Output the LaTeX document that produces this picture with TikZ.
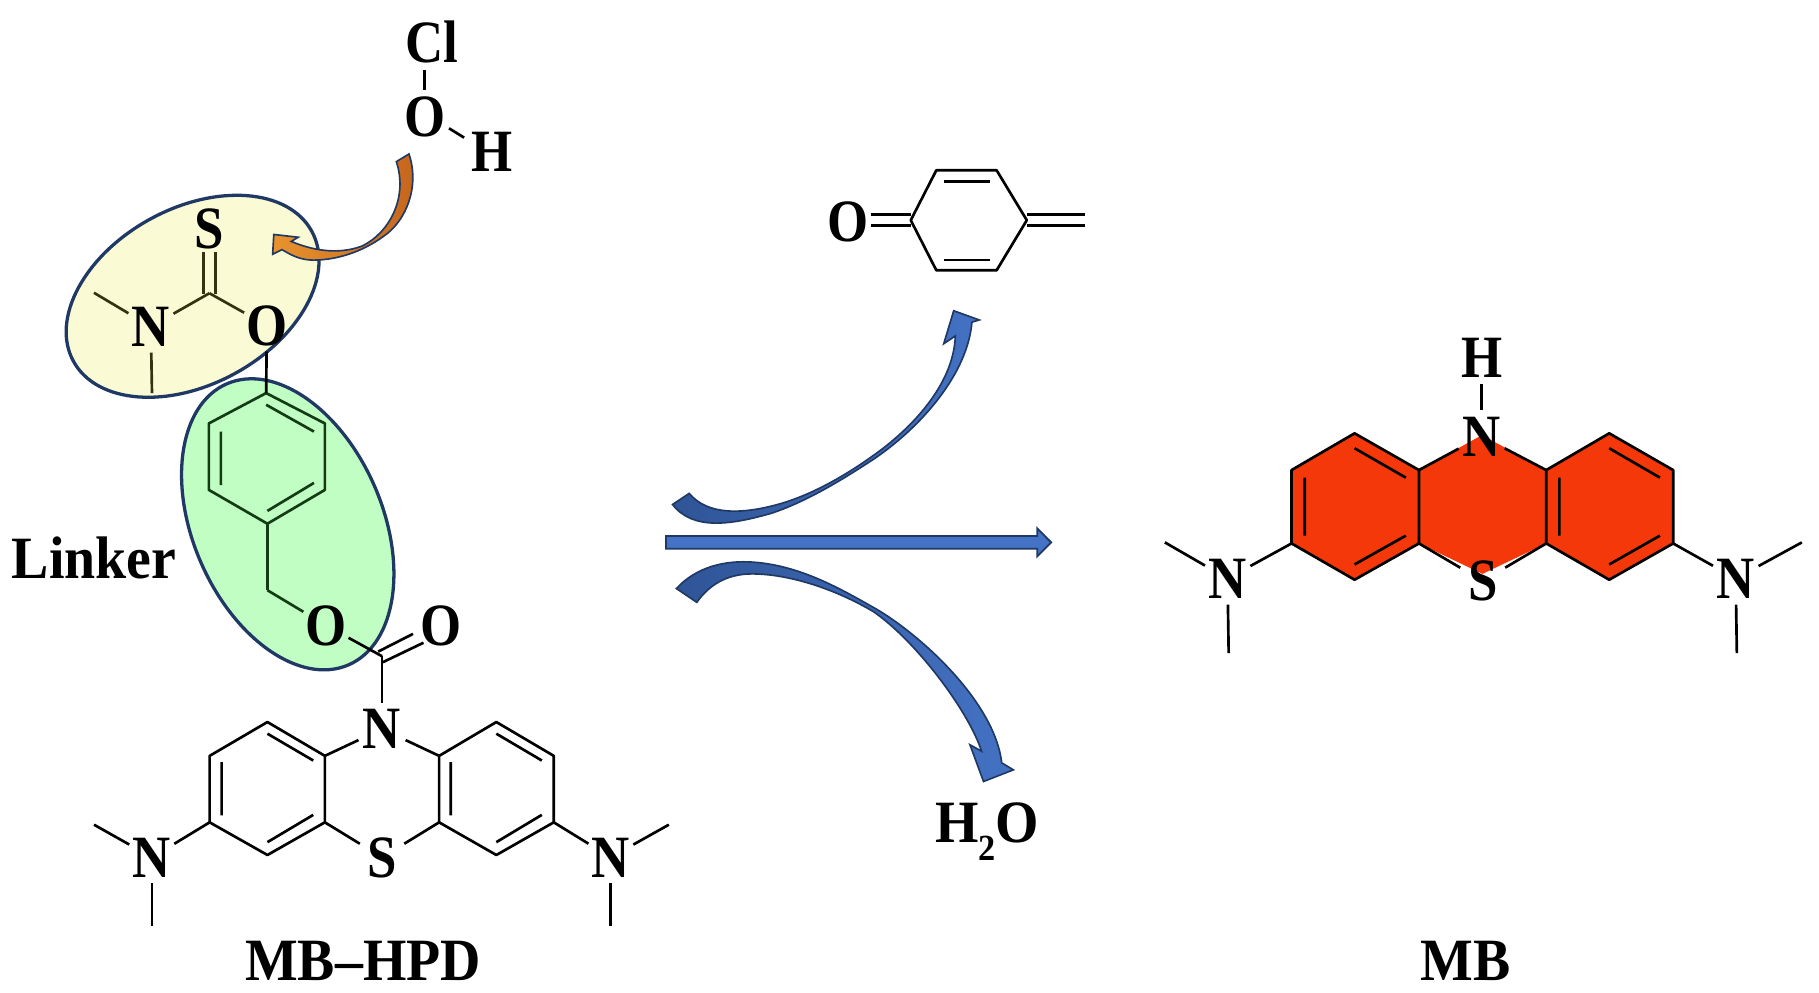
\documentclass[tikz,border=0pt]{standalone}
\usepackage{fontspec}
\newfontfamily\atomfont[FakeStretch=0.88]{Liberation Serif}
\newfontfamily\labelfont[FakeStretch=0.93]{Liberation Serif}
\newcommand\atm[1]{\makebox[0pt]{\smash{\raisebox{-0.33em}{#1}}}}
\definecolor{navy}{HTML}{1F3864}
\definecolor{arrowblue}{HTML}{4472C4}
\definecolor{arrowdark}{HTML}{2F5597}
\definecolor{ell-yellow}{HTML}{FAFBD5}
\definecolor{ell-green}{HTML}{C0FEC4}
\definecolor{mbred}{HTML}{F5380A}
\definecolor{orangehead}{HTML}{E8932E}
\definecolor{orangetail}{HTML}{C4641C}
\definecolor{bondyellow}{HTML}{33330F}
\definecolor{bondgreen}{HTML}{143C14}
\tikzset{
  atom/.style={circle,inner sep=0pt,minimum size=0.88cm,font=\atomfont\bfseries\fontsize{29.3}{32}\selectfont},
  caption/.style={circle,inner sep=0pt,minimum size=0.88cm,font=\labelfont\bfseries\fontsize{29.3}{32}\selectfont},
  bond/.style={draw=black,line width=1.3pt},
  ybond/.style={draw=bondyellow,line width=1.3pt},
  gbond/.style={draw=bondgreen,line width=1.3pt},
  lobe/.style={draw=navy,line width=1.6pt},
  bluearrow/.style={draw=navy,line width=0.8pt,left color=arrowdark,right color=arrowblue},
  straightarrow/.style={draw=navy,line width=0.9pt,fill=arrowblue},
  orangearrow/.style={draw=navy,line width=0.8pt,left color=orangehead,right color=orangetail},
}
\begin{document}
\begin{tikzpicture}[x=0.0199cm,y=-0.02cm]
\useasboundingbox (0,0) rectangle (1567.8,850.7);
% highlight lobes
\draw[lobe,fill=ell-yellow,shift={(166,254)},rotate=28.6] (0,0) ellipse [x radius=117,y radius=75.5];
\draw[lobe,fill=ell-green,shift={(248,449.5)},rotate=113.4] (0,0) ellipse [x radius=132,y radius=81.3];
% red core of MB
\fill[mbred] (1167.5,371.5) -- (1223,403) -- (1277.3,373) -- (1332.7,403) -- (1387,371.5) -- (1442.1,403) -- (1442.1,465.9) -- (1387,497) -- (1332.7,465.9) -- (1277.7,492) -- (1223,465.9) -- (1167.5,497) -- (1113.2,465.9) -- (1113.2,403) -- cycle;

% ---------- HOCl
\node[atom] (cl) at (372,37) {\atm{Cl}};
\node[atom] (oh) at (366,100) {\atm{O}};
\node[atom] (hh) at (424,130) {\atm{H}};
\draw[bond] (366,60) -- (366,77);
\draw[bond] (387,110) -- (400,118);

% ---------- orange curved arrow
\draw[orangearrow,line join=miter]
  (341.6,138.6) -- (352.5,132)
  .. controls (362,160) and (350,190) .. (330,203)
  .. controls (312,216) and (290,223) .. (270,223)
  .. controls (258,223) and (250,218) .. (243,214)
  -- (235,218) -- (236,201) -- (257,203.4) -- (251,207)
  .. controls (268,214) and (290,219) .. (312,211)
  .. controls (335,200) and (352,170) .. (341.6,138.6)
  -- cycle;

% ---------- thiocarbamate
\node[atom] (s1) at (180.5,196) {\atm{S}};
\node[atom] (n1) at (130,280) {\atm{N}};
\node[atom] (o1) at (230,279) {\atm{O}};
\coordinate (c1) at (180.5,251.4);
\coordinate (me1) at (81,251);
\coordinate (me2) at (131,337);
\draw[ybond] (175.6,216) -- (175.6,252) (185.5,216) -- (185.5,252);
\draw[ybond] (c1) -- (n1);
\draw[ybond] (c1) -- (o1);
\draw[ybond] (me1) -- (n1);
\draw[ybond] (me2) -- (n1);

% ---------- linker ring
\coordinate (l1) at (229.4,337);
\coordinate (l2) at (280,363);
\coordinate (l3) at (280,420);
\coordinate (l4) at (230.5,449);
\coordinate (l5) at (180,420);
\coordinate (l6) at (180,363);
\coordinate (ch2) at (230.5,506);
\draw[gbond,line join=round] (l1) -- (l2) -- (l3) -- (l4) -- (l5) -- (l6) -- cycle;
\draw[gbond] (229.4,347) -- (270.6,370) (190.4,370) -- (190.4,416) (230.5,438) -- (270.6,414);
\draw[bond] (o1) -- (l1);
\draw[gbond] (l4) -- (ch2);

\node[caption] (linker) at (81,479) {\atm{Linker}};

% ---------- carbamate
\node[atom] (o2) at (280.7,536) {\atm{O}};
\node[atom] (o3) at (380,536) {\atm{O}};
\node[atom] (n2) at (329.3,625) {\atm{N}};
\coordinate (c2) at (329.3,562.6);
\draw[gbond] (ch2) -- (o2);
\draw[bond] (o2) -- (c2);
\draw[bond] (326,558.6) -- (356,543.4) (330,567.7) -- (365,551);
\draw[bond] (c2) -- (n2);

% ---------- MB-HPD tricycle
\node[atom] (s2) at (329.3,735) {\atm{S}};
\node[atom] (n3) at (131,735) {\atm{N}};
\node[atom] (n4) at (526.3,735) {\atm{N}};
\coordinate (a1) at (280,648);
\coordinate (a2) at (230.5,619);
\coordinate (a3) at (180.7,648);
\coordinate (a4) at (180.7,705);
\coordinate (a5) at (230.5,733);
\coordinate (a6) at (280,705);
\coordinate (b1) at (378.5,648);
\coordinate (b2) at (427.8,619);
\coordinate (b3) at (477.3,648);
\coordinate (b4) at (477.3,705);
\coordinate (b5) at (427.8,733);
\coordinate (b6) at (378.5,705);
\draw[bond,line join=round] (a1) -- (a2) -- (a3) -- (a4) -- (a5) -- (a6) -- cycle;
\draw[bond,line join=round] (b1) -- (b2) -- (b3) -- (b4) -- (b5) -- (b6) -- cycle;
\draw[bond] (230.5,629) -- (270,652) (191,653.4) -- (191,699) (230.5,722) -- (270,698.6);
\draw[bond] (427.8,629) -- (467,652) (388.5,653.4) -- (388.5,699) (427.8,722) -- (467,698.6);
\draw[bond] (a1) -- (n2);
\draw[bond] (b1) -- (n2);
\draw[bond] (a6) -- (s2);
\draw[bond] (b6) -- (s2);
\draw[bond] (a4) -- (n3);
\draw[bond] (b4) -- (n4);
\coordinate (m1) at (81,707);
\coordinate (m2) at (131,794);
\coordinate (m3) at (576.5,707);
\coordinate (m4) at (526.3,794);
\draw[bond] (m1) -- (n3);
\draw[bond] (m2) -- (n3);
\draw[bond] (m3) -- (n4);
\draw[bond] (m4) -- (n4);
\node[caption] (mbhpd) at (313,824) {\atm{MB–HPD}};

% ---------- reaction arrows
\draw[straightarrow,line join=miter] (574,459.5) -- (894,459.5) -- (894,453) -- (906,465) -- (894,477) -- (894,470.5) -- (574,470.5) -- cycle;
\draw[bluearrow,line join=miter]
  (579.7,432.5) -- (594,423)
  .. controls (610,442) and (640,441) .. (672,432)
  .. controls (700,424) and (728,408) .. (752,391)
  .. controls (785,368) and (822,330) .. (823.4,288)
  -- (813.4,294.7) -- (822,266.4) -- (844,274.3) -- (837.7,276.2)
  .. controls (834,320) and (795,365) .. (754,393)
  .. controls (725,412) and (695,430) .. (665,440)
  .. controls (630,450) and (597,455) .. (579.7,432.5)
  -- cycle;
\draw[bluearrow,line join=miter]
  (583,504.6)
  .. controls (600,486) and (625,480) .. (650,482)
  .. controls (690,485) and (725,505) .. (755,522)
  .. controls (790,542) and (857,600) .. (863.4,654)
  -- (873.4,660) -- (847.7,670) -- (836,638.5) -- (846,644)
  .. controls (835,610) and (790,550) .. (753,524.5)
  .. controls (720,505) and (680,492) .. (648,492)
  .. controls (625,492) and (610,503) .. (600.6,516.4)
  -- cycle;

% ---------- quinone methide
\node[atom] (o4) at (731,190) {\atm{O}};
\coordinate (q1) at (785,188.8);
\coordinate (q2) at (807,146);
\coordinate (q3) at (859,146);
\coordinate (q4) at (885,188.8);
\coordinate (q5) at (859,231.7);
\coordinate (q6) at (807,231.7);
\draw[bond,line join=round] (q1) -- (q2) -- (q3) -- (q4) -- (q5) -- (q6) -- cycle;
\draw[bond] (813.4,155.4) -- (853.4,155.4) (813.4,223) -- (853.4,223);
\draw[bond] (885,183.7) -- (935,183.7) (885,193.6) -- (935,193.6);
\draw[bond] (751,183.7) -- (785,183.7) (751,193.6) -- (785,193.6);

\node[caption] (water) at (851,705) {\atm{H\raisebox{-0.3em}{\fontsize{18}{18}\selectfont 2}O}};

% ---------- MB
\node[atom] (h5) at (1277,307) {\atm{H}};
\node[atom] (n5) at (1277,374) {\atm{N}};
\node[atom] (s5) at (1278,498) {\atm{S}};
\node[atom] (n6) at (1058,496) {\atm{N}};
\node[atom] (n7) at (1496,496) {\atm{N}};
\coordinate (c1a) at (1223,403);
\coordinate (c2a) at (1167.5,371.5);
\coordinate (c3a) at (1113.2,403);
\coordinate (c4a) at (1113.2,465.9);
\coordinate (c5a) at (1167.5,497);
\coordinate (c6a) at (1223,465.9);
\coordinate (d1a) at (1332.7,403);
\coordinate (d2a) at (1387,371.5);
\coordinate (d3a) at (1442.1,403);
\coordinate (d4a) at (1442.1,465.9);
\coordinate (d5a) at (1387,497);
\coordinate (d6a) at (1332.7,465.9);
\draw[bond,line join=round] (c1a) -- (c2a) -- (c3a) -- (c4a) -- (c5a) -- (c6a) -- cycle;
\draw[bond,line join=round] (d1a) -- (d2a) -- (d3a) -- (d4a) -- (d5a) -- (d6a) -- cycle;
\draw[bond] (1167.5,384.3) -- (1211.7,409.5) (1124.5,409.5) -- (1124.5,459.2) (1167.5,483.9) -- (1211.7,459.2);
\draw[bond] (1387,384.3) -- (1430.7,409.5) (1344,409.5) -- (1344,459.2) (1387,483.9) -- (1430.7,459.2);
\draw[bond] (h5) -- (n5);
\draw[bond] (c1a) -- (n5);
\draw[bond] (d1a) -- (n5);
\draw[bond] (c6a) -- (s5);
\draw[bond] (d6a) -- (s5);
\draw[bond] (c4a) -- (n6);
\draw[bond] (d4a) -- (n7);
\coordinate (p1) at (1004,465);
\coordinate (p2) at (1059,560);
\coordinate (p3) at (1553,465);
\coordinate (p4) at (1497,560);
\draw[bond] (p1) -- (n6);
\draw[bond] (p2) -- (n6);
\draw[bond] (p3) -- (n7);
\draw[bond] (p4) -- (n7);
\node[caption] (mb) at (1263,824) {\atm{MB}};
\end{tikzpicture}
\end{document}
